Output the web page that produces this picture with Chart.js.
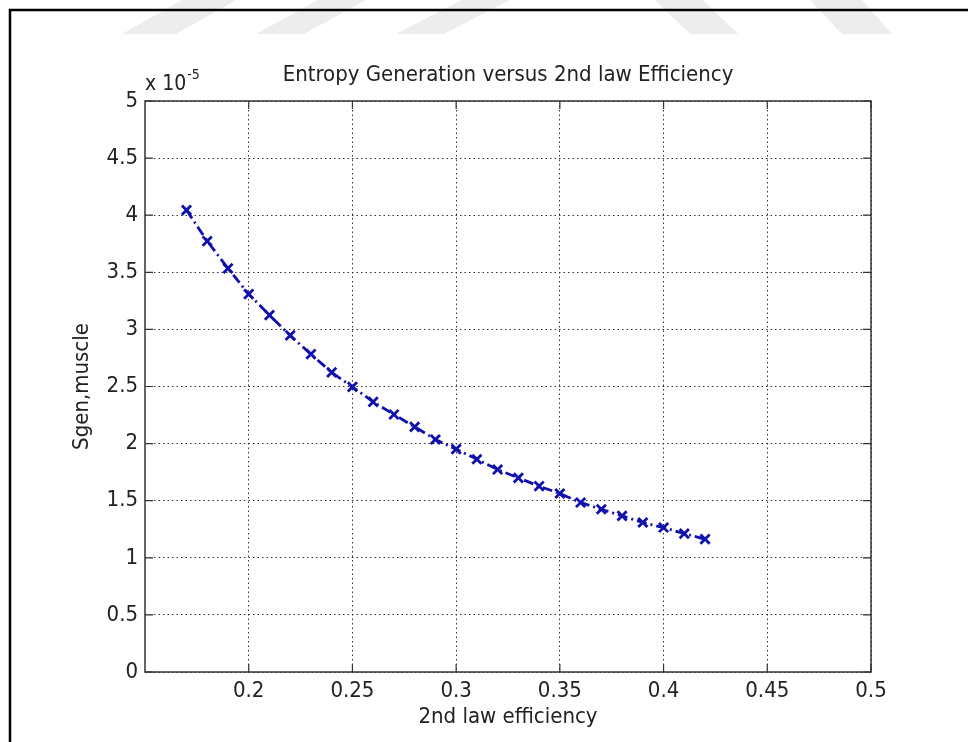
<!DOCTYPE html>
<html>
<head>
<meta charset="utf-8">
<title>Entropy Generation versus 2nd law Efficiency</title>
<script src="https://cdn.jsdelivr.net/npm/chart.js@4/dist/chart.umd.min.js"></script>
<style>
  html, body { margin: 0; padding: 0; background: #fff; }
  #wrap { width: 968px; height: 742px; }
</style>
</head>
<body>
<div id="wrap"><canvas id="myChart" width="968" height="742"></canvas></div>
<script>
const ctx = document.getElementById("myChart");

// second law efficiency (x) and entropy generation in the muscle (y, in units of 1e-5)
const efficiency = [
    0.17, 0.18, 0.19, 0.20, 0.21, 0.22, 0.23, 0.24, 0.25, 0.26,
    0.27, 0.28, 0.29, 0.30, 0.31, 0.32, 0.33, 0.34, 0.35, 0.36,
    0.37, 0.38, 0.39, 0.40, 0.41, 0.42]

const sgenMuscle = [
    4.045, 3.773, 3.534, 3.309, 3.125, 2.947, 2.783, 2.623, 2.497, 2.366,
    2.255, 2.147, 2.036, 1.951, 1.863, 1.773, 1.700, 1.627, 1.563, 1.484,
    1.425, 1.367, 1.309, 1.265, 1.212, 1.163]

const xTickValues = [0.2, 0.25, 0.3, 0.35, 0.4, 0.45, 0.5]
const yTickValues = [0, 0.5, 1, 1.5, 2, 2.5, 3, 3.5, 4, 4.5, 5]

const fontFamily = '"Liberation Sans Narrow", "DejaVu Sans Condensed", "Liberation Sans", sans-serif'
const textColor = '#222'
const lineBlue = '#1010ac'

const fmt = v => String(+v.toFixed(2))

// matlab-ish frame: full box, inward ticks, exponent label, page lines
const matlabFrame = {
    id: 'matlabFrame',
    beforeDraw(chart) {
        const c = chart.ctx
        c.save()
        c.fillStyle = '#ededed'
        const stripes = [
            [[182, 236], [122, 176]],
            [[318, 366], [256, 304]],
            [[462, 510], [396, 444]],
            [[655, 703], [690, 738]],
            [[810, 862], [842, 892]]
        ]
        stripes.forEach(([top, bot]) => {
            c.beginPath()
            c.moveTo(top[0], 0)
            c.lineTo(top[1], 0)
            c.lineTo(bot[1], 34)
            c.lineTo(bot[0], 34)
            c.closePath()
            c.fill()
        })
        c.strokeStyle = '#000'
        c.lineWidth = 2.5
        c.beginPath()
        c.moveTo(10, 742)
        c.lineTo(10, 10)
        c.lineTo(968, 10)
        c.stroke()
        c.restore()
    },
    afterDraw(chart) {
        const c = chart.ctx
        const {left, right, top, bottom} = chart.chartArea
        const xs = chart.scales.x
        const ys = chart.scales.y
        const len = 8
        c.save()
        c.strokeStyle = '#333'
        c.lineWidth = 1.5
        c.strokeRect(left, top, right - left, bottom - top)
        c.lineWidth = 1.2
        c.beginPath()
        xTickValues.forEach(v => {
            const px = xs.getPixelForValue(v)
            c.moveTo(px, bottom); c.lineTo(px, bottom - len)
            c.moveTo(px, top); c.lineTo(px, top + len)
        })
        yTickValues.forEach(v => {
            const py = ys.getPixelForValue(v)
            c.moveTo(left, py); c.lineTo(left + len, py)
            c.moveTo(right, py); c.lineTo(right - len, py)
        })
        c.stroke()

        // exponent of the y axis
        c.fillStyle = textColor
        c.textBaseline = 'alphabetic'
        c.textAlign = 'left'
        c.font = '21px ' + fontFamily
        c.fillText('x 10', left, top - 11)
        const w = c.measureText('x 10').width
        c.font = '14px ' + fontFamily
        c.fillText('-5', left + w + 1, top - 22)
        c.restore()
    }
}

const data = {
    datasets: [
        {
            data: efficiency.map((x, i) => ({x: x, y: sgenMuscle[i]})),
            borderColor: lineBlue,
            backgroundColor: lineBlue,
            borderWidth: 2.8,
            borderDash: [10, 4, 2, 4],
            pointStyle: 'crossRot',
            pointRadius: 6.5,
            pointBorderWidth: 2.8,
            pointBorderColor: lineBlue,
            fill: false,
            tension: 0
        }
    ]
}

const config = {
    type: 'line',
    data: data,
    plugins: [matlabFrame],
    options: {
        responsive: false,
        animation: false,
        layout: {padding: {left: 0, right: 97, top: 0, bottom: 0}},
        plugins: {
            legend: {display: false},
            tooltip: {enabled: false},
            title: {
                display: true,
                text: 'Entropy Generation versus 2nd law Efficiency',
                fullSize: false,
                color: textColor,
                font: {family: fontFamily, size: 22, weight: 'normal', lineHeight: 1.2},
                padding: {top: 62, bottom: 12.6}
            }
        },
        scales: {
            x: {
                type: 'linear',
                min: 0.15,
                max: 0.5,
                afterBuildTicks: s => { s.ticks = xTickValues.map(v => ({value: v})) },
                afterFit: s => { s.height = 70 },
                ticks: {
                    callback: v => fmt(v),
                    color: textColor,
                    padding: 6,
                    maxRotation: 0,
                    font: {family: fontFamily, size: 22}
                },
                grid: {color: '#333', lineWidth: 1, drawTicks: false},
                border: {display: false, dash: [1.5, 3]},
                title: {
                    display: true,
                    text: '2nd law efficiency',
                    color: textColor,
                    font: {family: fontFamily, size: 22, lineHeight: 1.2},
                    padding: {top: 0, bottom: 11.8}
                }
            },
            y: {
                type: 'linear',
                min: 0,
                max: 5,
                afterBuildTicks: s => { s.ticks = yTickValues.map(v => ({value: v})) },
                afterFit: s => { s.width = 145 },
                ticks: {
                    callback: v => fmt(v),
                    color: textColor,
                    padding: 7,
                    font: {family: fontFamily, size: 22}
                },
                grid: {color: '#333', lineWidth: 1, drawTicks: false},
                border: {display: false, dash: [1.5, 3]},
                title: {
                    display: true,
                    text: 'Sgen,muscle',
                    color: textColor,
                    font: {family: fontFamily, size: 22, lineHeight: 1.2},
                    padding: {top: 68.8, bottom: 0}
                }
            }
        }
    }
}

const myChart = new Chart(ctx, config);
</script>
</body>
</html>
